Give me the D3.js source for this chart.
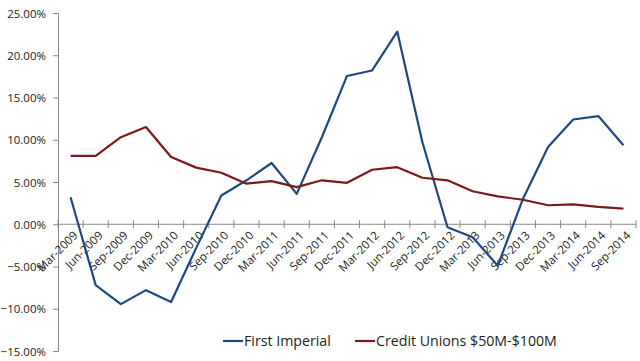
<!DOCTYPE html>
<html><head><meta charset="utf-8">
<script src="https://cdn.jsdelivr.net/npm/d3@7"></script>
<style>body{margin:0;background:#fff}svg{display:block}text{font-family:"Open Sans","Liberation Sans",sans-serif;fill:#222}</style>
</head><body><svg id="c" width="640" height="361"></svg>
<script>
const categories = ["Mar-2009","Jun-2009","Sep-2009","Dec-2009","Mar-2010","Jun-2010","Sep-2010","Dec-2010","Mar-2011","Jun-2011","Sep-2011","Dec-2011","Mar-2012","Jun-2012","Sep-2012","Dec-2012","Mar-2013","Jun-2013","Sep-2013","Dec-2013","Mar-2014","Jun-2014","Sep-2014"];
const firstImperial = [3.2,-7.2,-9.45,-7.8,-9.2,-2.8,3.4,5.2,7.25,3.6,10.3,17.55,18.2,22.8,9.7,-0.35,-1.55,-4.9,3.0,9.15,12.4,12.8,9.35];
const creditUnions = [8.08,8.08,10.3,11.5,7.95,6.7,6.1,4.8,5.1,4.4,5.2,4.9,6.45,6.75,5.5,5.2,3.9,3.3,2.9,2.25,2.35,2.05,1.85];
const yTicks = [25,20,15,10,5,0,-5,-10,-15];
const seriesNames = ["First Imperial","Credit Unions $50M-$100M"];
const colors = ["#1f497d","#7a1a1a"];

const svg = d3.select("#c");
const x = d3.scaleBand().domain(categories).range([58,636]);
const y = d3.scaleLinear().domain([-15,25]).range([351,13]);

// y axis
const ya = svg.append("g").attr("transform","translate(58,0)")
  .call(d3.axisLeft(y).tickValues(yTicks).tickSize(5).tickFormat(d=>d3.format(".2f")(d)+"%"));
ya.select(".domain").attr("stroke","#888");
ya.selectAll(".tick line").attr("stroke","#888");
ya.selectAll("text").attr("font-size",11.5).attr("x",-12).attr("dy","0.35em");

// x axis at zero
const xa = svg.append("g").attr("transform",`translate(0,${y(0)})`)
  .call(d3.axisBottom(x).tickSize(0).tickFormat(""));
xa.select(".domain").attr("stroke","#888").attr("d",`M58,0H636`);
const edges = categories.map(c=>x(c)+x.bandwidth()).concat([x(categories[0])]);
xa.selectAll(".edge").data(edges).enter().append("line")
  .attr("x1",d=>d).attr("x2",d=>d).attr("y1",-4).attr("y2",4).attr("stroke","#888");
svg.append("g").selectAll("text").data(categories).enter().append("text")
  .attr("transform",d=>`translate(${x(d)+x.bandwidth()/2+5},${y(0)+9}) rotate(-45)`)
  .attr("text-anchor","end").attr("dy","0.35em").attr("font-size",11.5).text(d=>d);

// lines
const line = vals => d3.line().x((d,i)=>x(categories[i])+x.bandwidth()/2).y(d=>y(d))(vals);
[firstImperial,creditUnions].forEach((vals,i)=>{
  svg.append("path").attr("d",line(vals)).attr("fill","none").attr("stroke",colors[i])
    .attr("stroke-width",2.2).attr("stroke-linejoin","round");
});

// legend
const lg = [{x:223,w:20},{x:355,w:20}];
seriesNames.forEach((n,i)=>{
  svg.append("line").attr("x1",lg[i].x).attr("x2",lg[i].x+lg[i].w).attr("y1",341).attr("y2",341)
    .attr("stroke",colors[i]).attr("stroke-width",2.2);
  svg.append("text").attr("x",lg[i].x+lg[i].w+1).attr("y",346).attr("font-size",14.2).text(n);
});
</script></body></html>
